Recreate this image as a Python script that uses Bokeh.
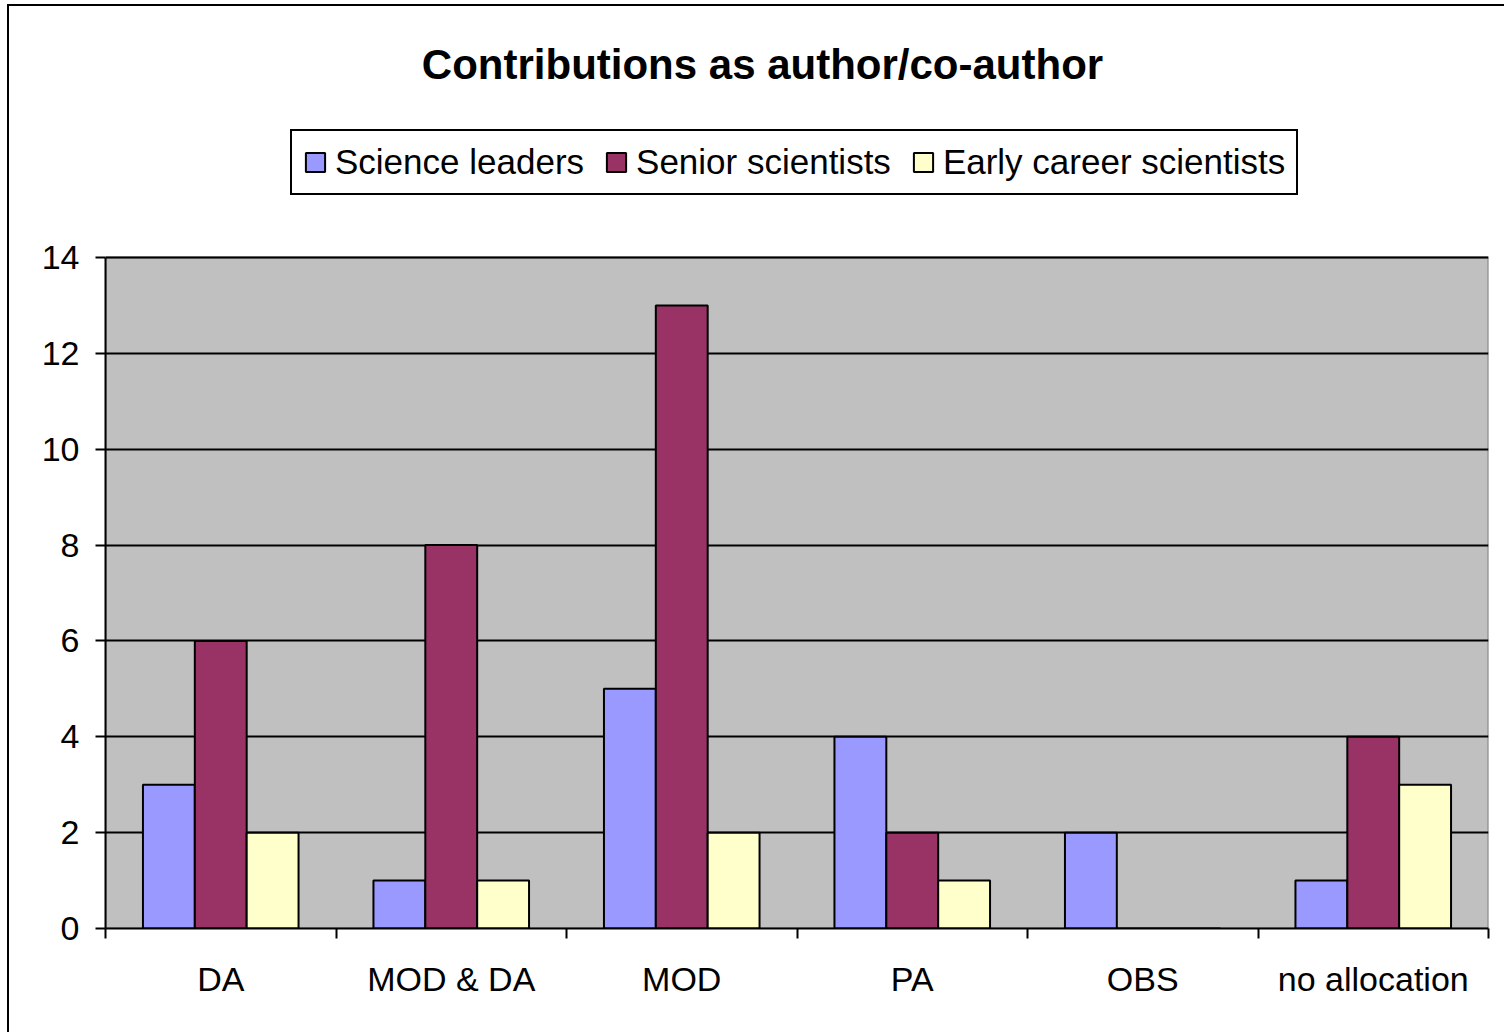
import numpy as np
from bokeh.plotting import figure
from bokeh.models import Range1d, FixedTicker, Legend, LegendItem, Label, BoxAnnotation
from bokeh.embed import file_html
from bokeh.resources import INLINE

categories = ["DA", "MOD & DA", "MOD", "PA", "OBS", "no allocation"]
science_leaders = [3, 1, 5, 4, 2, 1]
senior_scientists = [6, 8, 13, 2, 0, 4]
early_career = [2, 1, 2, 1, 0, 3]
series_names = ["Science leaders", "Senior scientists", "Early career scientists"]
series_colors = ["#9999FF", "#993366", "#FFFFCC"]
y_ticks = [0, 2, 4, 6, 8, 10, 12, 14]
y_max = 14
title_text = "Contributions as author/co-author"

FONT = "Liberation Sans"
n = len(categories)
centers = np.arange(n) + 0.5
bar_w = 0.225
offsets = [-bar_w, 0.0, bar_w]

# layout (pixels)
W, H = 1497, 1028
border_left, border_right, border_bottom = 96, 18, 106
plot_area_h = 671                       # pixel height of the 0..14 area
frame_h = H - border_bottom
frame_w = W - border_left - border_right
ppu_y = plot_area_h / y_max
ppu_x = frame_w / n
y_end = frame_h / ppu_y

p = figure(width=W, height=H, x_range=Range1d(0, n), y_range=Range1d(0, y_end),
           output_backend="svg", toolbar_location=None,
           min_border_left=border_left, min_border_right=border_right,
           min_border_top=0, min_border_bottom=border_bottom)
p.styles = {"margin-left": "7px", "margin-top": "4px",
            "border-left": "2px solid black", "border-top": "2px solid black"}
p.background_fill_color = "white"
p.border_fill_color = "white"
p.outline_line_color = None

area = BoxAnnotation(left=0, right=n, bottom=0, top=y_max, fill_color="#C0C0C0", fill_alpha=1.0,
                     line_color="#808080", line_width=2, line_alpha=1.0, level="image")
p.add_layout(area)

renderers = []
for vals, name, col, off in zip([science_leaders, senior_scientists, early_career],
                                series_names, series_colors, offsets):
    r = p.vbar(x=centers + off, top=vals, width=bar_w, bottom=0,
               fill_color=col, line_color="black", line_width=2)
    renderers.append((name, r))

# x axis
p.xaxis.ticker = FixedTicker(ticks=list(centers), minor_ticks=list(range(n + 1)))
p.xaxis.major_label_overrides = {float(c): lab for c, lab in zip(centers, categories)}
p.xaxis.major_tick_out = 0
p.xaxis.major_tick_in = 0
p.xaxis.minor_tick_out = 10
p.xaxis.minor_tick_in = 0
p.xaxis.minor_tick_line_color = "black"
p.xaxis.minor_tick_line_width = 2
p.xaxis.axis_line_color = "black"
p.xaxis.axis_line_width = 2
p.xaxis.major_label_text_font = FONT
p.xaxis.major_label_text_font_size = "34px"
p.xaxis.major_label_text_color = "black"
p.xaxis.major_label_standoff = 21

# y axis
p.yaxis.ticker = FixedTicker(ticks=y_ticks, minor_ticks=[])
p.yaxis.bounds = (0, y_max)
p.yaxis.major_tick_out = 10
p.yaxis.major_tick_in = 0
p.yaxis.major_tick_line_color = "black"
p.yaxis.major_tick_line_width = 2
p.yaxis.axis_line_color = "black"
p.yaxis.axis_line_width = 2
p.yaxis.major_label_text_font = FONT
p.yaxis.major_label_text_font_size = "34px"
p.yaxis.major_label_text_color = "black"
p.yaxis.major_label_standoff = 16

p.xgrid.visible = False
p.ygrid.ticker = FixedTicker(ticks=y_ticks)
p.ygrid.grid_line_color = "black"
p.ygrid.grid_line_width = 2

# title: centre at page pixel (762, 64); frame left at 105, frame bottom at 928
title = Label(x=(762 - 105) / ppu_x, y=(928 - 64) / ppu_y, text=title_text,
              text_align="center", text_baseline="middle",
              text_font=FONT, text_font_size="42px", text_font_style="bold", text_color="black")
p.add_layout(title)

legend = Legend(items=[LegendItem(label=nm, renderers=[r]) for nm, r in renderers],
                orientation="horizontal", location=(290 - 105, 928 - 195),
                border_line_color="black", border_line_width=2, border_line_alpha=1.0,
                background_fill_color="white", background_fill_alpha=1.0,
                padding=11, margin=0, spacing=20, glyph_width=24, glyph_height=24,
                label_standoff=8, label_text_font=FONT, label_text_font_size="35px",
                label_text_color="black")
p.add_layout(legend, "center")

open("out.html", "w").write(file_html(p, INLINE))
